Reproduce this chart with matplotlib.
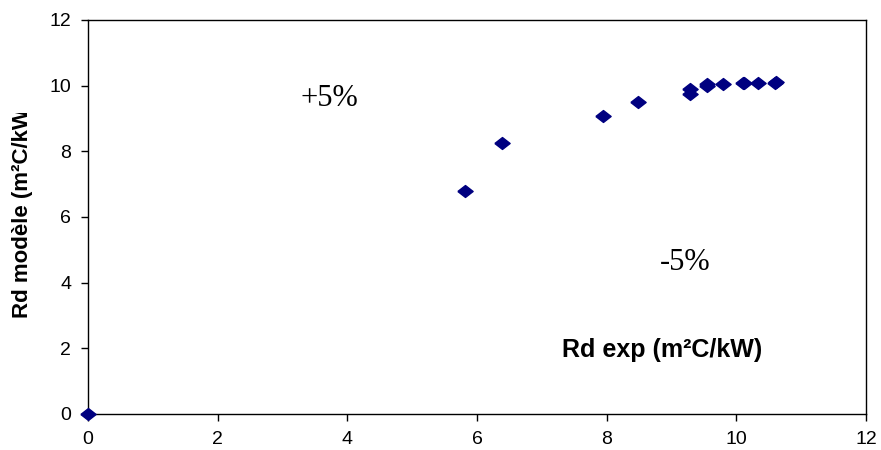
import matplotlib
matplotlib.use('Agg')
import matplotlib.pyplot as plt
from matplotlib.transforms import Bbox, TransformedBbox
import numpy as np

# values
rd_exp = [0.0, 5.82, 6.39, 7.94, 8.48, 9.29, 9.29, 9.55, 9.55, 9.79, 10.10, 10.12, 10.33, 10.60, 10.62]
rd_mod = [0.0, 6.79, 8.25, 9.08, 9.50, 9.89, 9.74, 9.99, 10.04, 10.05, 10.07, 10.09, 10.09, 10.09, 10.10]

x_ticks = [0, 2, 4, 6, 8, 10, 12]
y_ticks = [0, 2, 4, 6, 8, 10, 12]

plt.rcParams['font.family'] = ['Liberation Sans', 'DejaVu Sans']

fig = plt.figure(figsize=(8.81, 4.5), dpi=100)
ax = fig.add_axes([0.0999, 0.08, 0.883, 0.876])

diamond = [(-1, 0), (0, 0.78), (1, 0), (0, -0.78), (-1, 0)]
ax.plot(rd_exp, rd_mod, linestyle='none', marker=diamond, markersize=11,
        color='#000080', clip_on=False, zorder=3)

ax.set_xlim(0, 12)
ax.set_ylim(0, 12)
ax.set_xticks(x_ticks)
ax.set_yticks(y_ticks)
ax.tick_params(direction='out', length=5, width=1, labelsize=14, pad=7)

for s in ax.spines.values():
    s.set_color('black')
    s.set_linewidth(1)

ax.text(8.85, 1.95, 'Rd exp (m²C/kW)', fontsize=18, fontweight='bold', ha='center', va='center')

# y label is cut at the top in the original
ylab = fig.text(0.026, 0.293, 'Rd modèle (m²C/kW)', fontsize=16, fontweight='bold',
                rotation=90, ha='center', va='bottom')
ylab.set_clip_box(TransformedBbox(Bbox([[0, 0], [1, 0.749]]), fig.transFigure))
ylab.set_clip_on(True)

ax.text(3.72, 9.6, '+5%', family=['Liberation Serif'], fontsize=22, ha='center', va='center')
ax.text(9.21, 4.6, '-5%', family=['Liberation Serif'], fontsize=22, ha='center', va='center')

fig.savefig('out.png', dpi=100)
